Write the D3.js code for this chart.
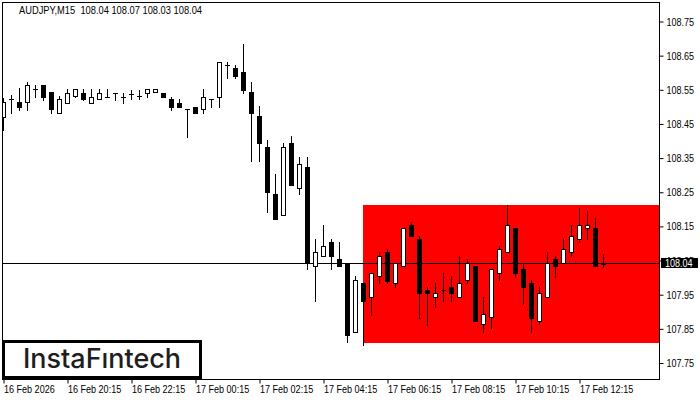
<!DOCTYPE html>
<html><head><meta charset="utf-8">
<script src="https://cdn.jsdelivr.net/npm/d3@7/dist/d3.min.js"></script>
<style>
html,body{margin:0;padding:0;background:#fff;}
svg{display:block;}
.lbl{font-family:"Liberation Sans Narrow","Liberation Sans",Arial,sans-serif;font-size:11px;fill:#000;}
</style></head><body>
<svg id="chart" width="700" height="400"></svg>
<script>
const title = "AUDJPY,M15  108.04 108.07 108.03 108.04";
const firstBarTime = "2026-02-16 18:15";
const opens = [108.471,108.523,108.515,108.515,108.551,108.564,108.544,108.481,108.512,108.532,
108.542,108.512,108.522,108.530,108.542,108.530,108.537,108.532,108.542,108.544,
108.542,108.522,108.512,108.493,108.501,108.493,108.522,108.530,108.623,108.613,
108.601,108.543,108.472,108.382,108.245,108.183,108.393,108.262,108.324,108.033,
108.062,108.103,108.054,108.042,107.842,107.983,107.942,108.004,108.074,107.983,
108.033,108.154,108.113,107.964,107.942,107.964,107.973,107.942,107.993,108.033,
107.863,107.884,108.013,108.074,108.144,108.024,107.983,107.873,107.942,108.054,
108.042,108.074,108.113,108.144,108.144,108.04];
const highs = [108.525,108.535,108.554,108.574,108.564,108.564,108.544,108.532,108.551,108.551,
108.551,108.551,108.551,108.551,108.542,108.540,108.549,108.549,108.551,108.551,
108.542,108.530,108.522,108.493,108.501,108.551,108.522,108.632,108.632,108.623,
108.684,108.572,108.502,108.403,108.303,108.393,108.415,108.353,108.353,108.112,
108.154,108.112,108.103,108.042,108.005,107.983,108.013,108.074,108.083,108.042,
108.144,108.163,108.123,107.973,107.983,108.013,108.004,108.062,108.054,108.033,
107.942,108.024,108.093,108.213,108.144,108.042,107.993,107.973,108.074,108.062,
108.113,108.154,108.203,108.195,108.174,108.07];
const lows = [108.432,108.482,108.491,108.491,108.530,108.520,108.482,108.481,108.512,108.530,
108.520,108.512,108.522,108.530,108.520,108.512,108.522,108.522,108.530,108.544,
108.530,108.491,108.501,108.413,108.481,108.481,108.500,108.501,108.584,108.584,
108.542,108.342,108.342,108.193,108.173,108.183,108.272,108.244,108.024,107.932,
108.062,108.024,108.033,107.812,107.842,107.804,107.891,107.983,107.983,107.973,
108.033,108.123,107.883,107.862,107.913,107.932,107.932,107.942,107.983,107.872,
107.842,107.853,107.993,108.074,108.003,107.924,107.842,107.863,107.942,108.003,
108.042,108.062,108.103,108.113,108.033,108.03];
const closes = [108.515,108.523,108.501,108.564,108.551,108.530,108.493,108.522,108.542,108.551,
108.522,108.530,108.542,108.530,108.542,108.530,108.537,108.532,108.551,108.551,
108.530,108.501,108.501,108.493,108.481,108.530,108.522,108.632,108.623,108.591,
108.549,108.481,108.393,108.252,108.173,108.382,108.272,108.332,108.042,108.074,
108.092,108.062,108.033,107.833,107.993,107.932,108.013,108.062,107.991,108.042,
108.144,108.123,107.954,107.954,107.954,107.964,107.954,107.983,108.042,107.872,
107.893,108.024,108.083,108.154,108.013,107.973,107.883,107.954,108.042,108.033,
108.083,108.123,108.154,108.154,108.033,108.04];
const xTickTimes = ["2026-02-16 18:15","2026-02-16 20:15","2026-02-16 22:15","2026-02-17 00:15","2026-02-17 02:15","2026-02-17 04:15","2026-02-17 06:15","2026-02-17 08:15","2026-02-17 10:15","2026-02-17 12:15"];
const xTickLabels = ["16 Feb 2026","16 Feb 20:15","16 Feb 22:15","17 Feb 00:15","17 Feb 02:15","17 Feb 04:15","17 Feb 06:15","17 Feb 08:15","17 Feb 10:15","17 Feb 12:15"];
const yTickValues = [107.75,107.85,107.95,108.05,108.15,108.25,108.35,108.45,108.55,108.65,108.75];
const yTickLabels = ["107.75","107.85","107.95","108.05","108.15","108.25","108.35","108.45","108.55","108.65","108.75"];
const zoneStartTime = "2026-02-17 05:30";
const zoneHigh = 108.213, zoneLow = 107.809;
const lastPrice = 108.04, lastPriceLabel = "108.04";
const logoText = "InstaF\u0131ntech";

const parse = d3.timeParse("%Y-%m-%d %H:%M");
const t0 = parse(firstBarTime);
const barTimes = opens.map((_, i) => d3.timeMinute.offset(t0, 15 * i));
const key = d => d.getTime();
const bars = opens.map((o, i) => ({t: key(barTimes[i]), o, h: highs[i], l: lows[i], c: closes[i]}));

const L = 2, R = 659, T = 2, B = 379;
const svg = d3.select("#chart");
const x = d3.scalePoint().domain(bars.map(d => d.t)).range([3, 3 + 8 * (bars.length - 1)]);
const y = d3.scaleLinear().domain([107.75, 108.75]).range([363, 21.5]);
const Y = v => Math.round(y(v));

svg.append("defs").append("clipPath").attr("id", "plot")
  .append("rect").attr("x", L + 1).attr("y", T + 1).attr("width", R - L - 1).attr("height", B - T - 1);

const plot = svg.append("g").attr("clip-path", "url(#plot)");

// red zone
const zx = x(key(parse(zoneStartTime)));
plot.append("rect").attr("x", zx).attr("y", Y(zoneHigh)).attr("width", R - zx).attr("height", Y(zoneLow) - Y(zoneHigh)).attr("fill", "#ff0000");

// price line
plot.append("rect").attr("x", L).attr("y", Y(lastPrice) - 1).attr("width", R - L).attr("height", 1).attr("fill", "#000");

// candles
const cg = plot.append("g");
bars.forEach(d => {
  const cx = x(d.t);
  const yh = Y(d.h), yl = Y(d.l);
  cg.append("rect").attr("x", cx).attr("y", yh).attr("width", 1).attr("height", Math.max(1, yl - yh + 1)).attr("fill", "#000");
  const top = Y(Math.max(d.o, d.c)), bot = Y(Math.min(d.o, d.c));
  if (d.c > d.o) {
    cg.append("rect").attr("x", cx - 2 + 0.5).attr("y", top + 0.5).attr("width", 4).attr("height", Math.max(1, bot - top))
      .attr("fill", "#fff").attr("stroke", "#000").attr("stroke-width", 1);
  } else if (d.c < d.o) {
    cg.append("rect").attr("x", cx - 2).attr("y", top).attr("width", 5).attr("height", Math.max(1, bot - top + 1)).attr("fill", "#000");
  } else {
    cg.append("rect").attr("x", cx - 2).attr("y", top).attr("width", 5).attr("height", 1).attr("fill", "#000");
  }
});

// frame
svg.append("rect").attr("x", L + 0.5).attr("y", T + 0.5).attr("width", R - L).attr("height", B - T).attr("fill", "none").attr("stroke", "#000").attr("stroke-width", 1);

// y axis
const yAxis = d3.axisRight(y).tickValues(yTickValues).tickFormat((d, i) => yTickLabels[i]).tickSize(4).tickPadding(3);
const yg = svg.append("g").attr("transform", `translate(${R + 0.5},0)`).call(yAxis);
yg.select(".domain").remove();
yg.selectAll(".tick line").attr("stroke", "#000");
yg.selectAll(".tick text").attr("class", "lbl").attr("fill", "#000").attr("font-family", null).attr("font-size", null);

// x axis
const xTickKeys = xTickTimes.map(s => key(parse(s)));
const xAxis = d3.axisBottom(x).tickValues(xTickKeys).tickFormat((d, i) => xTickLabels[i]).tickSize(4).tickPadding(2);
const xg = svg.append("g").attr("transform", `translate(0.5,${B + 0.5})`).call(xAxis);
xg.select(".domain").remove();
xg.selectAll(".tick line").attr("stroke", "#000");
xg.selectAll(".tick text").attr("class", "lbl").attr("fill", "#000").attr("font-family", null).attr("font-size", null)
  .attr("text-anchor", "start").attr("x", 0).attr("dy", null).attr("y", 13);

// last price label
const py = Y(lastPrice) - 1;
svg.append("rect").attr("x", 661).attr("y", py - 5).attr("width", 37).attr("height", 10).attr("fill", "#000");
svg.append("text").attr("class", "lbl").attr("x", 665).attr("y", py + 4).style("fill", "#fff").text(lastPriceLabel);

// title
const tt = svg.append("text").attr("class", "lbl").attr("x", 19).attr("y", 14).style("white-space", "pre").attr("xml:space", "preserve").text(title);

// narrow-font emulation if Liberation Sans Narrow is missing
const probe = svg.append("text").attr("class", "lbl").text("108.75");
const pw = probe.node().getComputedTextLength();
probe.remove();
if (pw > 30) {
  svg.selectAll("text.lbl").each(function() {
    const w = this.getComputedTextLength();
    d3.select(this).attr("textLength", (w * 0.82).toFixed(1)).attr("lengthAdjust", "spacingAndGlyphs");
  });
}
tt.attr("textLength", 183).attr("lengthAdjust", "spacingAndGlyphs");

// logo
svg.append("rect").attr("x", 3.5).attr("y", 341.5).attr("width", 197).attr("height", 36).attr("fill", "#fff").attr("stroke", "#000").attr("stroke-width", 3);
svg.append("text").attr("x", 23).attr("y", 368).attr("font-family", "Inter, 'Open Sans', sans-serif").attr("font-weight", 500)
  .attr("font-size", 27).attr("fill", "#1e1e1e").attr("textLength", 158).attr("lengthAdjust", "spacingAndGlyphs").text(logoText);
</script>
</body></html>
